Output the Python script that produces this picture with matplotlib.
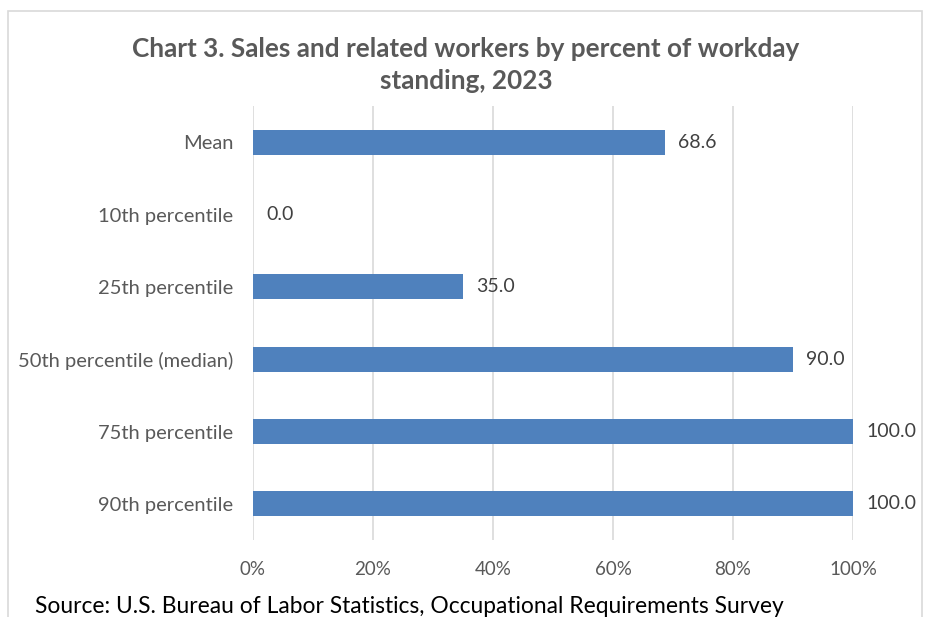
import matplotlib.pyplot as plt
from matplotlib.patches import Rectangle
from matplotlib.ticker import PercentFormatter

categories = ['Mean', '10th percentile', '25th percentile',
              '50th percentile (median)', '75th percentile', '90th percentile']
values = [68.6, 0.0, 35.0, 90.0, 100.0, 100.0]
xticks = [0, 20, 40, 60, 80, 100]

plt.rcParams['font.family'] = ['Lato', 'DejaVu Sans']
grey = '#595959'
blue = '#4f81bd'

fig = plt.figure(figsize=(9.25, 6.17), dpi=100)
fig.patches.append(Rectangle((8 / 925, -0.05), 914 / 925, 1.05 - 11 / 617,
                             transform=fig.transFigure, fill=False,
                             edgecolor='#d9d9d9', linewidth=1.2))

ax = fig.add_axes([253 / 925, 1 - 540 / 617, 600 / 925, 434 / 617])
y = list(range(len(categories)))
ax.barh(y, values, height=0.35, color=blue, linewidth=0, zorder=3)
for yi, v in zip(y, values):
    ax.text(v + 2.2, yi, f'{v:.1f}', va='center', ha='left', fontsize=14, color='#404040')

ax.set_ylim(len(categories) - 0.5, -0.5)
ax.set_xlim(0, 100)
ax.set_yticks(y)
ax.set_yticklabels(categories, fontsize=14.5, color=grey)
ax.set_xticks(xticks)
ax.xaxis.set_major_formatter(PercentFormatter(decimals=0))
ax.tick_params(axis='x', labelsize=13.5, labelcolor=grey, length=0, pad=15)
ax.tick_params(axis='y', length=0, pad=14)
ax.grid(axis='x', color='#d9d9d9', linewidth=1.2, zorder=0)
for s in ax.spines.values():
    s.set_visible(False)

fig.text(466 / 925, 1 - 65 / 617,
         'Chart 3. Sales and related workers by percent of workday\nstanding, 2023',
         ha='center', va='center', fontsize=18.8, fontweight='bold', color=grey,
         linespacing=1.4)
fig.text(35 / 925, 1 - 613 / 617,
         'Source: U.S. Bureau of Labor Statistics, Occupational Requirements Survey',
         ha='left', va='baseline', fontsize=16.4, color='black')

fig.savefig('out.png', dpi=100)
